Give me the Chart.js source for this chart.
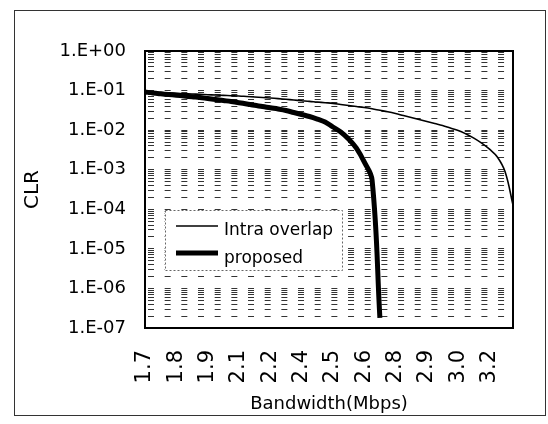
<!DOCTYPE html>
<html><head><meta charset="utf-8">
<script src="https://cdn.jsdelivr.net/npm/chart.js@4"></script>
<style>html,body{margin:0;padding:0;background:#fff}canvas{display:block}</style>
</head><body>
<canvas id="c" width="548" height="424"></canvas>
<script>
// Bandwidth categories (Mbps)
const bandwidth = [1.666, 1.701, 1.735, 1.770, 1.804, 1.839, 1.873, 1.908, 1.942, 1.977,
  2.011, 2.046, 2.080, 2.115, 2.149, 2.184, 2.218, 2.253, 2.287, 2.322,
  2.356, 2.391, 2.425, 2.460, 2.494, 2.529, 2.563, 2.598, 2.632, 2.667,
  2.701, 2.736, 2.770, 2.805, 2.839, 2.874, 2.908, 2.943, 2.977, 3.012,
  3.046, 3.081, 3.115, 3.150, 3.184, 3.219, 3.253, 3.288];
// X tick labels (one every 4 categories)
const xTickLabels = ['1.7','1.8','1.9','2.1','2.2','2.4','2.5','2.6','2.8','2.9','3.0','3.2'];
const xLabelEvery = 4;
// Y tick labels (decades 1e0 .. 1e-7)
const yTickLabels = ['1.E+00','1.E-01','1.E-02','1.E-03','1.E-04','1.E-05','1.E-06','1.E-07'];
const seriesNames = ['Intra overlap', 'proposed'];
// CLR values
const intraOverlap = [0.0920, 0.0904, 0.0889, 0.0868, 0.0853, 0.0833, 0.0819, 0.0804, 0.0786, 0.0773,
  0.0755, 0.0742, 0.0729, 0.0708, 0.0688, 0.0668, 0.0649, 0.0627, 0.0602, 0.0578,
  0.0555, 0.0532, 0.0514, 0.0494, 0.0474, 0.0445, 0.0420, 0.0396, 0.0373, 0.0346,
  0.0317, 0.0291, 0.0263, 0.0234, 0.0209, 0.0186, 0.0165, 0.0147, 0.0131, 0.0113,
  0.0098, 0.0080, 0.0063, 0.0047, 0.0033, 0.0021, 0.00088, 0.000128];
const proposed = [0.0920, 0.0868, 0.0829, 0.0796, 0.0764, 0.0729, 0.0696, 0.0668, 0.0630, 0.0595,
  0.0561, 0.0529, 0.0494, 0.0458, 0.0424, 0.0396, 0.0367, 0.0342, 0.0314, 0.0279,
  0.0248, 0.0221, 0.0191, 0.0161, 0.0120, 0.0090, 0.0060, 0.0035, 0.00157, 0.00055,
  1.8e-7];

// gridline values on the log axis: 1..9 x 10^e
const yGridValues = [];
for (let e = -7; e < 0; e++) {
  for (let m = 1; m <= 9; m++) yGridValues.push(+(m * Math.pow(10, e)).toPrecision(3));
}
yGridValues.push(1);

const decor = {
  id: 'decor',
  beforeDraw(chart) {
    const c = chart.ctx;
    c.save();
    c.fillStyle = '#fff';
    c.fillRect(0, 0, chart.width, chart.height);
    c.restore();
  },
  afterDraw(chart) {
    const c = chart.ctx;
    const a = chart.chartArea;
    c.save();
    // plot border
    c.strokeStyle = '#000';
    c.lineWidth = 2;
    c.strokeRect(a.left, a.top, a.right - a.left, a.bottom - a.top);
    // legend box
    const lx = 165, ly = 210, lw = 177, lh = 60;
    c.fillStyle = '#fff';
    c.fillRect(lx, ly, lw, lh);
    c.strokeStyle = '#666';
    c.lineWidth = 1;
    c.setLineDash([2, 2]);
    c.strokeRect(lx + 0.5, ly + 0.5, lw, lh);
    c.setLineDash([]);
    const ds = chart.data.datasets;
    const rows = [{y: 226, ty: 235}, {y: 253, ty: 263}];
    ds.forEach((d, i) => {
      c.strokeStyle = '#000';
      c.lineWidth = d.borderWidth;
      c.lineCap = 'butt';
      c.beginPath();
      c.moveTo(176, rows[i].y);
      c.lineTo(218, rows[i].y);
      c.stroke();
      c.fillStyle = '#000';
      c.font = '17px "DejaVu Sans"';
      c.textBaseline = 'alphabetic';
      c.textAlign = 'left';
      c.fillText(d.label, 224, rows[i].ty);
    });
    // outer frame
    c.strokeStyle = '#333';
    c.lineWidth = 1;
    c.strokeRect(14.5, 10.5, 531, 405);
    c.restore();
  }
};

new Chart(document.getElementById('c'), {
  type: 'line',
  data: {
    labels: bandwidth,
    datasets: [
      {label: seriesNames[0], data: intraOverlap, borderColor: '#000', borderWidth: 1.6,
       pointRadius: 0, tension: 0.4, fill: false},
      {label: seriesNames[1], data: proposed, borderColor: '#000', borderWidth: 5,
       pointRadius: 0, tension: 0.4, fill: false}
    ]
  },
  options: {
    responsive: false,
    animation: false,
    devicePixelRatio: 1,
    layout: {padding: {left: 14, top: 51, right: 35, bottom: 0}},
    plugins: {legend: {display: false}, tooltip: {enabled: false}},
    scales: {
      x: {
        type: 'category',
        offset: false,
        grid: {display: false, drawTicks: false},
        border: {display: false},
        ticks: {
          autoSkip: false, maxRotation: 90, minRotation: 90, padding: 22,
          color: '#000', font: {family: 'DejaVu Sans', size: 21},
          callback: (v, i) => (i % xLabelEvery === 0 ? xTickLabels[i / xLabelEvery] : '')
        },
        title: {display: true, text: 'Bandwidth(Mbps)', color: '#000',
                font: {family: 'DejaVu Sans', size: 18}, padding: {top: 0, bottom: 9}},
        afterFit: (s) => { s.height = 96; s.paddingLeft = 0; s.paddingRight = 0; }
      },
      y: {
        type: 'logarithmic',
        min: 1e-7, max: 1,
        afterBuildTicks: (s) => { s.ticks = yGridValues.map(v => ({value: v})); },
        grid: {display: true, drawTicks: false, color: '#333', lineWidth: 1},
        border: {display: false, dash: [6, 10.67], dashOffset: 13.67},
        ticks: {
          autoSkip: false, padding: 19, color: '#000',
          font: {family: 'DejaVu Sans', size: 18},
          callback: (value) => {
            const l = Math.log10(value);
            const e = Math.round(l);
            return Math.abs(l - e) < 1e-6 ? yTickLabels[-e] : '';
          }
        },
        title: {display: true, text: 'CLR', color: '#000',
                font: {family: 'DejaVu Sans', size: 20}, padding: {top: 7, bottom: 0}},
        afterFit: (s) => { s.width = 131; s.paddingTop = 0; s.paddingBottom = 0; }
      }
    }
  },
  plugins: [decor]
});
</script>
</body></html>
